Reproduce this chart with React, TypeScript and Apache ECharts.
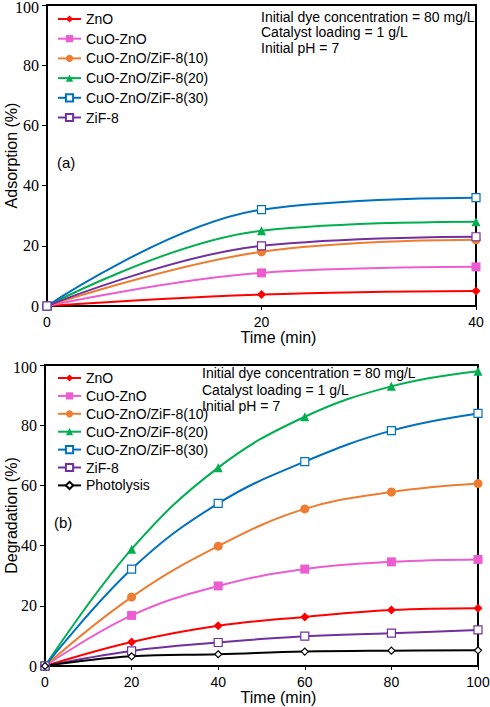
import React, { useEffect, useRef } from "react";
import * as echarts from "echarts";

const timeA = [0, 20, 40];
const timeB = [0, 20, 40, 60, 80, 100];
const yTicks = [0, 20, 40, 60, 80, 100];

const adsZnO = [0, 3.8, 5.0];
const adsCuOZnO = [0, 11, 13];
const ads10 = [0, 18, 22];
const ads20 = [0, 25, 28];
const ads30 = [0, 32, 36];
const adsZiF = [0, 20, 23];

const degZnO = [0, 8.0, 13.4, 16.3, 18.6, 19.2];
const degCuOZnO = [0, 16.8, 26.6, 32.2, 34.6, 35.4];
const deg10 = [0, 22.9, 39.8, 52.2, 57.8, 60.6];
const deg20 = [0, 38.8, 65.9, 82.8, 92.9, 97.9];
const deg30 = [0, 32.2, 54.0, 67.9, 78.2, 83.9];
const degZiF = [0, 5.0, 7.8, 9.9, 10.9, 12.0];
const degPhoto = [0, 3.2, 3.9, 4.8, 5.1, 5.2];

const names = [
  "ZnO",
  "CuO-ZnO",
  "CuO-ZnO/ZiF-8(10)",
  "CuO-ZnO/ZiF-8(20)",
  "CuO-ZnO/ZiF-8(30)",
  "ZiF-8",
  "Photolysis",
];

const styles: Record<string, { color: string; symbol: string; size: number; hollow: boolean }> = {
  "ZnO": { color: "#FF0000", symbol: "diamond", size: 9, hollow: false },
  "CuO-ZnO": { color: "#EC5DD0", symbol: "rect", size: 9, hollow: false },
  "CuO-ZnO/ZiF-8(10)": { color: "#ED7D31", symbol: "circle", size: 9, hollow: false },
  "CuO-ZnO/ZiF-8(20)": { color: "#00B050", symbol: "triangle", size: 9, hollow: false },
  "CuO-ZnO/ZiF-8(30)": { color: "#0070C0", symbol: "rect", size: 8, hollow: true },
  "ZiF-8": { color: "#7030A0", symbol: "rect", size: 8, hollow: true },
  "Photolysis": { color: "#000000", symbol: "diamond", size: 7, hollow: true },
};

function makeSeries(name: string, xs: number[], ys: number[], idx: number) {
  const s = styles[name];
  return {
    type: "line",
    name,
    xAxisIndex: idx,
    yAxisIndex: idx,
    smooth: 0.4,
    data: xs.map((x, i) => [x, ys[i]]),
    symbol: s.symbol,
    symbolSize: s.size,
    lineStyle: { color: s.color, width: 2 },
    itemStyle: s.hollow
      ? { color: "#FFFFFF", borderColor: s.color, borderWidth: 1.2 }
      : { color: s.color, borderColor: s.color, borderWidth: 0 },
    emphasis: { disabled: true },
  };
}

const sans = "'Liberation Sans', Arial, sans-serif";
const serif = "'Liberation Serif', 'Times New Roman', serif";

function xAxis(idx: number, max: number) {
  return {
    type: "value",
    gridIndex: idx,
    min: 0,
    max,
    interval: 20,
    name: "Time (min)",
    nameLocation: "middle",
    nameGap: 23,
    nameMoveOverlap: false,
    nameTextStyle: { fontFamily: sans, fontSize: 16, color: "#000", padding: [0, 0, 0, 34] },
    axisLine: { show: true, lineStyle: { color: "#000", width: 2 } },
    axisTick: { show: true, inside: false, length: 4, lineStyle: { color: "#000", width: 1 } },
    axisLabel: { fontFamily: sans, fontSize: 14, color: "#000", margin: 9 },
    splitLine: { show: false },
  };
}

function yAxis(idx: number, name: string, gap: number) {
  return {
    type: "value",
    gridIndex: idx,
    min: 0,
    max: 100,
    interval: 20,
    name,
    nameLocation: "middle",
    nameGap: gap,
    nameMoveOverlap: false,
    nameTextStyle: { fontFamily: sans, fontSize: 16, color: "#000" },
    axisLine: { show: true, lineStyle: { color: "#000", width: 2 } },
    axisTick: { show: true, inside: false, length: 5, lineStyle: { color: "#000", width: 1 } },
    axisLabel: {
      fontFamily: serif,
      fontSize: 16,
      color: "#000",
      margin: 8,
      formatter: (v: number) => (v === 100 ? "{t|100}" : String(v)),
      rich: { t: { fontFamily: serif, fontSize: 16, color: "#000", padding: [5, 0, 0, 0] } },
    },
    splitLine: { show: false },
  };
}

function legend(idx: number, top: number, gap: number, data: string[]) {
  return {
    id: "legend" + idx,
    orient: "vertical",
    left: 52,
    top,
    itemWidth: 23,
    itemHeight: 9,
    itemGap: gap,
    selectedMode: false,
    data,
    textStyle: { fontFamily: sans, fontSize: 14, color: "#000", lineHeight: 14 },
  };
}

export default function App() {
  const ref = useRef<HTMLDivElement>(null);
  useEffect(() => {
    if (!ref.current) return;
    const chart = echarts.init(ref.current, null, { renderer: "svg" });
    const aNames = names.slice(0, 6);
    const series: any[] = [];
    const adsData = [adsZnO, adsCuOZnO, ads10, ads20, ads30, adsZiF];
    aNames.forEach((n, i) => series.push(makeSeries(n, timeA, adsData[i], 0)));
    const degData = [degZnO, degCuOZnO, deg10, deg20, deg30, degZiF, degPhoto];
    names.forEach((n, i) => series.push(makeSeries(n, timeB, degData[i], 1)));
    chart.setOption({
      animation: false,
      backgroundColor: "#FFFFFF",
      grid: [
        { left: 47, top: 5, width: 429, height: 301, show: true, borderColor: "#000", borderWidth: 2, backgroundColor: "transparent", containLabel: false, outerBoundsMode: "none" },
        { left: 45, top: 365, width: 433, height: 301, show: true, borderColor: "#000", borderWidth: 2, backgroundColor: "transparent", containLabel: false, outerBoundsMode: "none" },
      ],
      xAxis: [xAxis(0, 40), xAxis(1, 100)],
      yAxis: [yAxis(0, "Adsorption (%)", 28), yAxis(1, "Degradation (%)", 26)],
      legend: [legend(0, 7, 5.7, aNames), legend(1, 366, 3.9, names)],
      series,
      graphic: [
        {
          type: "text",
          left: 261,
          top: 9,
          style: {
            text: "Initial dye concentration = 80 mg/L\nCatalyst loading = 1 g/L\nInitial pH = 7",
            fontFamily: sans,
            fontSize: 14,
            lineHeight: 15.5,
            fill: "#000",
          },
        },
        {
          type: "text",
          left: 202,
          top: 365,
          style: {
            text: "Initial dye concentration = 80 mg/L\nCatalyst loading = 1 g/L\nInitial pH = 7",
            fontFamily: sans,
            fontSize: 14,
            lineHeight: 16.5,
            fill: "#000",
          },
        },
        {
          type: "text",
          left: 57,
          top: 155,
          style: { text: "(a)", fontFamily: sans, fontSize: 15, fill: "#000" },
        },
        {
          type: "text",
          left: 54,
          top: 515,
          style: { text: "(b)", fontFamily: sans, fontSize: 15, fill: "#000" },
        },
      ],
    });
    return () => chart.dispose();
  }, []);
  return (
    <div
      ref={ref}
      style={{ position: "fixed", left: 0, top: 0, width: 490, height: 707, background: "#fff" }}
    />
  );
}
